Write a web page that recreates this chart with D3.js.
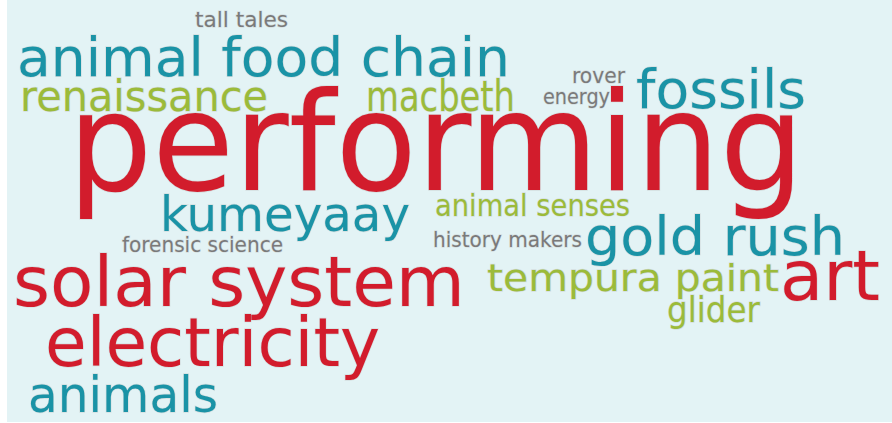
<!DOCTYPE html>
<head>
<meta charset="utf-8">
<style>
  html,body { margin:0; padding:0; background:#fff; }
  svg text { font-family: "DejaVu Sans", Verdana, sans-serif; }
</style>
<script src="https://d3js.org/d3.v7.min.js"></script>
</head>
<body>
<div id="cloud_viz"></div>
<script>
// words in the cloud, their weight and colour group
var words   = ["tall tales","animal food chain","renaissance","macbeth","rover","energy","fossils",
               "performing","kumeyaay","animal senses","forensic science","history makers","gold rush",
               "solar system","tempura paint","art","glider","electricity","animals"];
var weights = [11, 27, 21, 21, 11, 10.5, 27,
               69, 24, 15, 10.5, 10.5, 27,
               35, 19, 35, 17.5, 34, 25];
var groups  = ["minor","mid","low","low","minor","minor","mid",
               "top","mid","low","minor","minor","mid",
               "top","low","top","low","top","mid"];

// placement of each word (left edge, baseline, span)
var placeX  = [195, 17, 20, 366, 572, 543, 636, 68, 160, 435, 122, 433, 585, 13, 487, 780, 667, 45, 28];
var placeY  = [27, 76, 111, 111, 83, 104, 108, 190, 231, 216, 252, 247, 255, 306, 291, 300, 322, 366, 412];
var spanW   = [93, 493, 248, 149, 53, 67, 170, 736, 250, 195, 161, 149, 260, 452, 292, 100, 93, 335, 190];

var width = 892, height = 423;

var svg = d3.select("#cloud_viz")
  .append("svg")
    .attr("width", width)
    .attr("height", height);

svg.append("rect")
  .attr("x", 7).attr("y", 0)
  .attr("width", width - 7).attr("height", height - 1)
  .attr("fill", "#e3f3f5");

var color = d3.scaleOrdinal()
  .domain(["top","mid","low","minor"])
  .range(["#d21c2c", "#1a93a6", "#9bbb3a", "#7a7a7a"]);

var fontSize = d3.scaleLinear()
  .domain([0, 69])
  .range([0, 138]);

var data = words.map(function(w, i) {
  return { text: w, weight: weights[i], group: groups[i], x: placeX[i], y: placeY[i], w: spanW[i] };
});

svg.selectAll("text.word")
  .data(data)
  .enter()
  .append("text")
    .attr("class", "word")
    .attr("x", function(d){ return d.x; })
    .attr("y", function(d){ return d.y; })
    .attr("textLength", function(d){ return d.w; })
    .attr("lengthAdjust", "spacingAndGlyphs")
    .attr("font-size", function(d){ return fontSize(d.weight) + "px"; })
    .attr("fill", function(d){ return color(d.group); })
    .attr("stroke", "rgba(200,205,206,0.55)")
    .attr("stroke-width", 1.3)
    .attr("paint-order", "stroke")
    .text(function(d){ return d.text; });
</script>
</body>
</html>
